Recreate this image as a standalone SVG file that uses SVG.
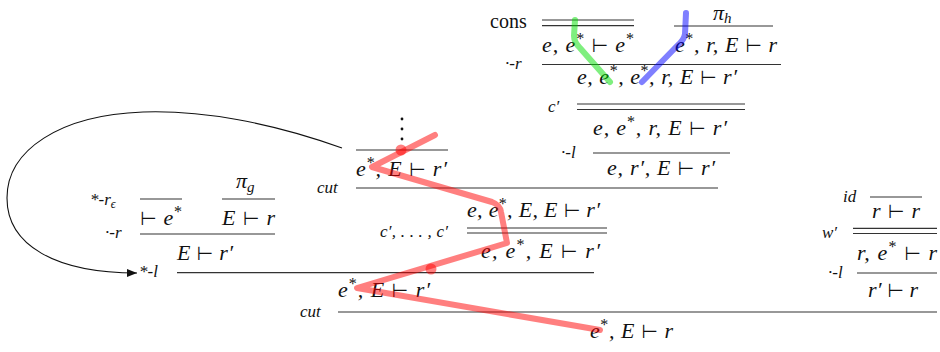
<svg xmlns="http://www.w3.org/2000/svg" width="940" height="352" viewBox="0 0 940 352">
<defs>
<style>
.m{font-family:"Liberation Serif","DejaVu Serif",serif;font-style:italic;font-size:22px;fill:#111}
.l{font-family:"Liberation Serif","DejaVu Serif",serif;font-style:italic;font-size:17px;fill:#111}
.u{font-family:"Liberation Serif","DejaVu Serif",serif;font-style:normal;font-size:20px;fill:#111}
.s{font-size:16px;font-style:normal}
.si{font-size:15px;font-style:italic}
.t{font-family:"DejaVu Sans",sans-serif;font-style:normal;font-size:19px}
.r{stroke:#333;stroke-width:1.2;fill:none}
.hl{fill:none;stroke-width:6;stroke-linecap:round;stroke-linejoin:round;stroke-opacity:0.5}
</style>
<marker id="ah" viewBox="0 0 10 8" refX="10" refY="4" markerWidth="10" markerHeight="8" markerUnits="userSpaceOnUse" orient="auto">
<path d="M0,0 L10,4 L0,8 Z" fill="#111"/>
</marker>
</defs>
<rect width="940" height="352" fill="#fff"/>

<g id="cons-rule">
<text class="u" x="490" y="28">cons</text>
<line class="r" x1="542" y1="20" x2="634" y2="20"/>
<line class="r" x1="542" y1="25.7" x2="634" y2="25.7"/>
<text class="m" x="542" y="52" textLength="92" lengthAdjust="spacing">e, e<tspan class="s" dy="-8">*</tspan><tspan dy="8"> </tspan><tspan class="t">⊢</tspan> e<tspan class="s" dy="-8">*</tspan></text>
</g>

<g id="pi-h-rule">
<text class="m" x="713" y="20">π<tspan class="si" dy="3">h</tspan></text>
<line class="r" x1="674" y1="26" x2="773" y2="26"/>
<text class="m" x="675" y="52" textLength="102" lengthAdjust="spacing">e<tspan class="s" dy="-8">*</tspan><tspan dy="8">, r, E </tspan><tspan class="t">⊢</tspan> r</text>
</g>

<g id="dot-r-top">
<text class="l" x="505" y="69">·-r</text>
<line class="r" x1="542" y1="64.5" x2="781" y2="64.5"/>
<text class="m" x="577" y="84" textLength="160" lengthAdjust="spacing">e, e<tspan class="s" dy="-8">*</tspan><tspan dy="8">, e</tspan><tspan class="s" dy="-8">*</tspan><tspan dy="8">, r, E </tspan><tspan class="t">⊢</tspan> r′</text>
</g>

<g id="c-prime-top">
<text class="l" x="548" y="112">c′</text>
<line class="r" x1="577" y1="104" x2="745" y2="104"/>
<line class="r" x1="577" y1="109.5" x2="745" y2="109.5"/>
<text class="m" x="593" y="135" textLength="134" lengthAdjust="spacing">e, e<tspan class="s" dy="-8">*</tspan><tspan dy="8">, r, E </tspan><tspan class="t">⊢</tspan> r′</text>
</g>

<g id="dot-l-top">
<text class="l" x="561" y="158">·-l</text>
<line class="r" x1="593" y1="153" x2="730" y2="153"/>
<text class="m" x="607" y="175" textLength="108" lengthAdjust="spacing">e, r′, E <tspan class="t">⊢</tspan> r′</text>
</g>

<g id="vdots-rule">
<circle cx="402" cy="119" r="1.4" fill="#111"/>
<circle cx="402" cy="129" r="1.4" fill="#111"/>
<circle cx="402" cy="139" r="1.4" fill="#111"/>
<line class="r" x1="356" y1="150" x2="448" y2="150"/>
<text class="m" x="356" y="176" textLength="91" lengthAdjust="spacing">e<tspan class="s" dy="-8">*</tspan><tspan dy="8">, E </tspan><tspan class="t">⊢</tspan> r′</text>
</g>

<g id="cut-mid">
<text class="l" x="317" y="193">cut</text>
<line class="r" x1="356" y1="188" x2="718" y2="188"/>
<text class="m" x="467" y="217" textLength="133" lengthAdjust="spacing">e, e<tspan class="s" dy="-8">*</tspan><tspan dy="8">, E, E </tspan><tspan class="t">⊢</tspan> r′</text>
</g>

<g id="c-primes">
<text class="l" x="380" y="237" textLength="68" lengthAdjust="spacing">c′, . . . , c′</text>
<line class="r" x1="467" y1="228" x2="607" y2="228"/>
<line class="r" x1="467" y1="233" x2="607" y2="233"/>
<text class="m" x="481" y="258" textLength="119" lengthAdjust="spacing">e, e<tspan class="s" dy="-8">*</tspan><tspan dy="8">, E </tspan><tspan class="t">⊢</tspan> r′</text>
</g>

<g id="star-r-eps">
<text class="l" x="90" y="205">*-r<tspan font-size="12" dy="3">ϵ</tspan></text>
<line class="r" x1="140" y1="199" x2="182" y2="199"/>
<text class="m" x="140" y="225" textLength="42" lengthAdjust="spacing"><tspan class="t">⊢</tspan> e<tspan class="s" dy="-8">*</tspan></text>
</g>

<g id="pi-g-rule">
<text class="m" x="236" y="188">π<tspan class="si" dy="4">g</tspan></text>
<line class="r" x1="222" y1="199" x2="275" y2="199"/>
<text class="m" x="222" y="225" textLength="53" lengthAdjust="spacing">E <tspan class="t">⊢</tspan> r</text>
</g>

<g id="dot-r-left">
<text class="l" x="105" y="238">·-r</text>
<line class="r" x1="140" y1="234" x2="275" y2="234"/>
<text class="m" x="177" y="260" textLength="56" lengthAdjust="spacing">E <tspan class="t">⊢</tspan> r′</text>
</g>

<g id="star-l">
<text class="l" x="139" y="277">*-l</text>
<line class="r" x1="177" y1="272.7" x2="594" y2="272.7"/>
<text class="m" x="338" y="297" textLength="92" lengthAdjust="spacing">e<tspan class="s" dy="-8">*</tspan><tspan dy="8">, E </tspan><tspan class="t">⊢</tspan> r′</text>
</g>

<g id="id-rule">
<text class="l" x="843" y="202">id</text>
<line class="r" x1="870" y1="197" x2="922" y2="197"/>
<text class="m" x="872" y="218" textLength="48" lengthAdjust="spacing">r <tspan class="t">⊢</tspan> r</text>
</g>

<g id="w-prime">
<text class="l" x="822" y="238">w′</text>
<line class="r" x1="853" y1="228.3" x2="937" y2="228.3"/>
<line class="r" x1="853" y1="233.5" x2="937" y2="233.5"/>
<text class="m" x="857" y="260" textLength="80" lengthAdjust="spacing">r, e<tspan class="s" dy="-8">*</tspan><tspan dy="8"> </tspan><tspan class="t">⊢</tspan> r</text>
</g>

<g id="dot-l-right">
<text class="l" x="828" y="278">·-l</text>
<line class="r" x1="857" y1="273" x2="937" y2="273"/>
<text class="m" x="868" y="297" textLength="50" lengthAdjust="spacing">r′ <tspan class="t">⊢</tspan> r</text>
</g>

<g id="cut-bottom">
<text class="l" x="300" y="317">cut</text>
<line class="r" x1="338" y1="312" x2="937" y2="312"/>
<text class="m" x="590" y="338" textLength="83" lengthAdjust="spacing">e<tspan class="s" dy="-8">*</tspan><tspan dy="8">, E </tspan><tspan class="t">⊢</tspan> r</text>
</g>

<g id="connectors">
<path d="M342,148 C270,122 200,110 143,112 C60,115 7,150 7,198 C7,245 55,273 137,273" fill="none" stroke="#111" stroke-width="1.1" marker-end="url(#ah)"/>
<path class="hl" stroke="#00e000" d="M575,20 L574,36 Q574,42 580,48 L610,82"/>
<path class="hl" stroke="#0000ff" d="M686,13 L685,34 Q684,40 678,45 L642,82"/>
<path class="hl" stroke="#ff0000" d="M435,135 L372,167 L492,202 Q500,205 501,212 L507,243 L357,288 L600,330"/>
<circle cx="401" cy="150" r="5.5" fill="#ff0000" fill-opacity="0.5"/>
<circle cx="431" cy="269" r="5.5" fill="#ff0000" fill-opacity="0.5"/>
</g>
</svg>
